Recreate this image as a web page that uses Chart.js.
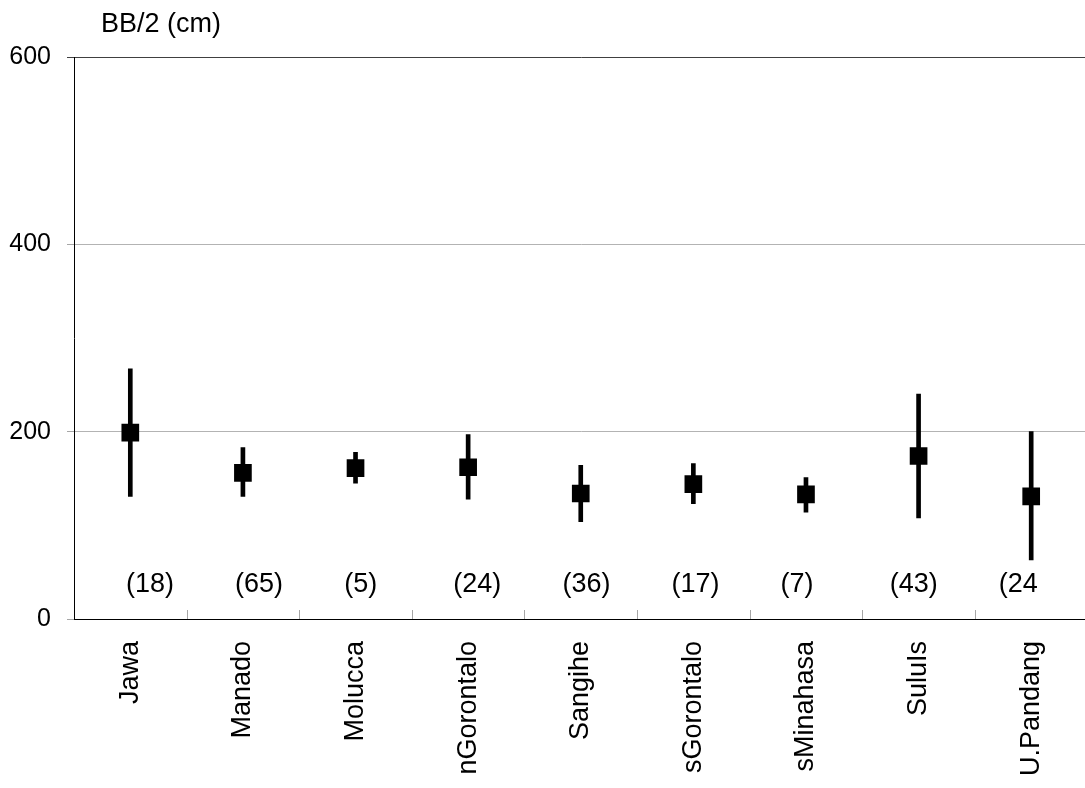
<!DOCTYPE html>
<html>
<head>
<meta charset="utf-8">
<script src="https://cdn.jsdelivr.net/npm/chart.js@4/dist/chart.umd.min.js"></script>
<style>
  html, body { margin: 0; padding: 0; background: #fff; overflow: hidden; }
  #wrap { width: 1100px; height: 788px; position: relative; }
</style>
</head>
<body>
<div id="wrap"><canvas id="c"></canvas></div>
<script>
// Half body breadth (cm) by locality: mean, minimum and maximum, with sample sizes
const categories  = ['Jawa', 'Manado', 'Molucca', 'nGorontalo', 'Sangihe', 'sGorontalo', 'sMinahasa', 'SuluIs', 'U.Pandang'];
const meanValues  = [199, 156, 161, 162, 134, 144, 133, 174, 131];
const minValues   = [131, 131, 145, 128, 104, 123, 114, 108, 63];
const maxValues   = [267, 183, 178, 197, 164, 166, 151, 240, 200];
const sampleSizes = [18, 65, 5, 24, 36, 17, 7, 43, 24];
const yTickValues = [0, 200, 400, 600];

const FONT = '"Liberation Sans", Arial, Helvetica, sans-serif';

// Inner category tick marks, axis caption and the sample-size line
const annotations = {
  id: 'annotations',
  afterDraw(chart) {
    const { ctx, chartArea, scales: { x, y } } = chart;
    ctx.save();

    ctx.strokeStyle = '#a6a6a6';
    ctx.lineWidth = 1;
    for (let i = 1; i < categories.length; i++) {
      const px = Math.round((x.getPixelForValue(i - 1) + x.getPixelForValue(i)) / 2) + 0.5;
      ctx.beginPath();
      ctx.moveTo(px, chartArea.bottom);
      ctx.lineTo(px, chartArea.bottom - 9);
      ctx.stroke();
    }

    ctx.fillStyle = '#000';
    ctx.font = '27px ' + FONT;
    ctx.textAlign = 'left';
    ctx.textBaseline = 'middle';
    ctx.fillText('BB/2 (cm)', chartArea.left + 27, 25);

    // sample sizes, typed as one spaced line inside a text box
    const boxLeft = chartArea.left + 52;
    const boxRight = 1037;
    const slot = 109.1;
    const ty = y.getPixelForValue(37);
    ctx.beginPath();
    ctx.rect(boxLeft - 5, ty - 30, boxRight - boxLeft + 5, 60);
    ctx.clip();
    sampleSizes.forEach((n, i) => {
      ctx.fillText('(' + n + ')', boxLeft + i * slot, ty);
    });

    ctx.restore();
  }
};

new Chart(document.getElementById('c'), {
  type: 'bar',
  data: {
    labels: categories,
    datasets: [
      {
        type: 'line',
        label: 'mean',
        data: meanValues,
        showLine: false,
        pointStyle: 'rect',
        pointRadius: 12.5,
        pointHoverRadius: 12.5,
        pointBorderWidth: 0,
        pointBackgroundColor: '#000',
        borderColor: '#000',
        order: 0
      },
      {
        type: 'bar',
        label: 'range',
        data: minValues.map((m, i) => [m, maxValues[i]]),
        backgroundColor: '#000',
        borderWidth: 0,
        barThickness: 4,
        grouped: false,
        order: 1
      }
    ]
  },
  options: {
    responsive: true,
    maintainAspectRatio: false,
    animation: false,
    events: [],
    layout: { padding: { top: 57, right: 6, left: 0, bottom: 0 } },
    plugins: {
      legend: { display: false },
      tooltip: { enabled: false },
      title: { display: false }
    },
    scales: {
      x: {
        offset: true,
        grid: { display: false, drawTicks: false },
        border: { display: true, color: '#000', width: 1 },
        ticks: {
          autoSkip: false,
          maxRotation: 90,
          minRotation: 90,
          padding: 22,
          color: '#000',
          font: { family: FONT, size: 27 }
        },
        afterFit(scale) { scale.height = 169; }
      },
      y: {
        min: 0,
        max: 600,
        afterBuildTicks(scale) { scale.ticks = yTickValues.map(v => ({ value: v })); },
        grid: {
          color: c => c.tick.value === 600 ? '#404040' : (c.tick.value === 0 ? '#000' : '#b3b3b3'),
          tickColor: c => c.tick.value === 600 ? '#404040' : '#a6a6a6',
          tickLength: 7,
          lineWidth: 1
        },
        border: { display: true, color: '#000', width: 1 },
        ticks: {
          padding: 16,
          color: '#000',
          font: { family: FONT, size: 25 }
        },
        afterFit(scale) { scale.width = 74; }
      }
    }
  },
  plugins: [annotations]
});
</script>
</body>
</html>
